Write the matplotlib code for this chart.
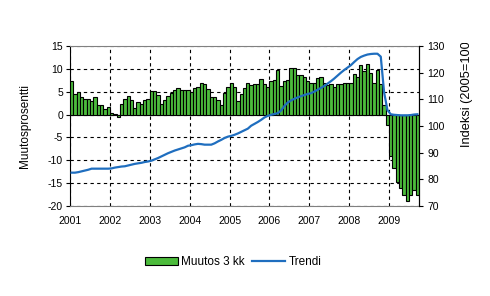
import matplotlib
matplotlib.use("Agg")
import matplotlib.pyplot as plt
from matplotlib.patches import Rectangle

plt.rcParams['font.family'] = ['Liberation Sans', 'DejaVu Sans']
plt.rcParams['axes.unicode_minus'] = False

# Vuodet (x-akselin nimiöt)
vuodet = ['2001', '2002', '2003', '2004', '2005', '2006', '2007', '2008', '2009']

# Muutos 3 kk (%), kuukausittain 1/2001 - 9/2009
muutos = [
    7.4, 4.5, 4.9, 3.8, 3.3, 3.3, 2.9, 3.8, 2.0, 2.0, 1.3, 1.6,
    0.3, 0.1, -0.5, 2.3, 3.4, 4.0, 3.1, 1.5, 2.7, 2.3, 3.2, 3.4,
    5.1, 5.1, 4.2, 2.3, 3.1, 4.0, 4.8, 5.3, 5.8, 5.3, 5.3, 5.3,
    4.9, 5.8, 6.1, 7.0, 6.6, 5.5, 3.8, 3.8, 3.2, 2.0, 4.7, 6.0,
    7.0, 6.0, 2.9, 4.5, 5.8, 7.0, 6.4, 6.6, 6.6, 7.7, 6.6, 6.0,
    7.3, 7.6, 9.8, 6.2, 7.3, 7.6, 10.1, 10.1, 8.6, 8.6, 8.2, 7.3,
    7.0, 7.0, 8.0, 8.2, 7.0, 6.4, 6.6, 6.1, 6.6, 6.6, 7.0, 7.0,
    7.0, 8.8, 8.2, 10.8, 9.6, 11.0, 9.2, 7.0, 9.7, 6.6, 2.0, -2.3,
    -9.0, -11.6, -14.7, -16.0, -17.7, -18.8, -17.7, -16.4, -17.7,
]

# Trendi (indeksi 2005=100)
trendi = [
    82.5, 82.5, 82.7, 83.0, 83.3, 83.6, 84.0, 84.0, 84.0, 84.0, 84.0, 84.0,
    84.1, 84.4, 84.6, 84.8, 84.9, 85.2, 85.5, 85.8, 86.0, 86.2, 86.5, 86.7,
    87.0, 87.5, 88.0, 88.6, 89.2, 89.8, 90.3, 90.8, 91.2, 91.6, 92.0, 92.6,
    92.8, 93.1, 93.3, 93.2, 93.0, 93.0, 93.0, 93.5, 94.2, 94.8, 95.5, 96.0,
    96.3, 96.7, 97.2, 97.8, 98.4, 99.0, 100.1, 100.8, 101.5, 102.3, 103.2, 103.8,
    104.2, 104.5, 104.8, 105.8, 107.5, 108.8, 109.6, 110.2, 110.7, 111.2, 111.6, 112.0,
    112.3, 112.9, 113.6, 114.3, 115.0, 115.9, 116.8, 117.8, 118.9, 120.0, 121.0, 121.9,
    122.8, 124.0, 125.1, 125.9, 126.4, 126.8, 127.0, 127.1, 127.1, 126.0, 112.6, 106.0,
    104.4, 104.2, 104.1, 104.0, 104.0, 104.0, 104.1, 104.3, 104.4,
]

x = [i + 0.5 for i in range(len(muutos))]

fig = plt.figure(figsize=(4.9, 2.96), dpi=100)
ax = fig.add_axes([70 / 490, 1 - 206 / 296, 349 / 490, 160 / 296])

# Pylväät
palkit = ax.bar(x, muutos, width=1.0, color='#4cbb3c', edgecolor='black',
                linewidth=0.8, label='Muutos 3 kk')
ax.set_xlim(0, len(muutos))
ax.set_ylim(-20, 15)
ax.set_yticks(range(-20, 16, 5))
ax.set_xticks(range(0, len(muutos), 12))
ax.set_xticklabels(vuodet)
ax.set_axisbelow(True)
ax.grid(True, color='black', linestyle=(0, (3, 3)), linewidth=0.8)
ax.set_ylabel('Muutosprosentti', fontsize=8.5, labelpad=12)
ax.tick_params(axis='y', length=3, width=0.8, labelsize=7.5, pad=2)
ax.tick_params(axis='x', length=0, labelsize=7.5, pad=7)
ax.spines['top'].set_color('#808080')
ax.spines['bottom'].set_color('#808080')
ax.spines['left'].set_color('black')

# Trendi oikealle akselille
ax2 = ax.twinx()
viiva, = ax2.plot(x, trendi, color='#1f6ebf', linewidth=1.6, label='Trendi')
ax2.set_ylim(70, 130)
ax2.set_yticks(range(70, 131, 10))
ax2.tick_params(axis='y', length=3, width=0.8, labelsize=7.5, pad=3)
for s in ['top', 'bottom', 'left']:
    ax2.spines[s].set_visible(False)
ax2.spines['right'].set_color('black')

# Oikean akselin otsikko, yläpää jää piiloon kuten alkuperäisessä
fig.text(467 / 490, 1 - 147 / 296, 'Indeksi (2005=100)', rotation=90,
         ha='center', va='bottom', fontsize=9.2)
fig.patches.append(Rectangle((450 / 490, 1 - 43 / 296), 40 / 490, 43 / 296,
                             transform=fig.transFigure, facecolor='white',
                             edgecolor='none', zorder=10))

fig.legend([palkit, viiva], ['Muutos 3 kk', 'Trendi'], loc='center',
           bbox_to_anchor=(233 / 490, 1 - 262 / 296), ncol=2, frameon=False,
           fontsize=8.5, handlelength=2.8, handletextpad=0.3, columnspacing=0.6)

fig.savefig('out.png', dpi=100)
